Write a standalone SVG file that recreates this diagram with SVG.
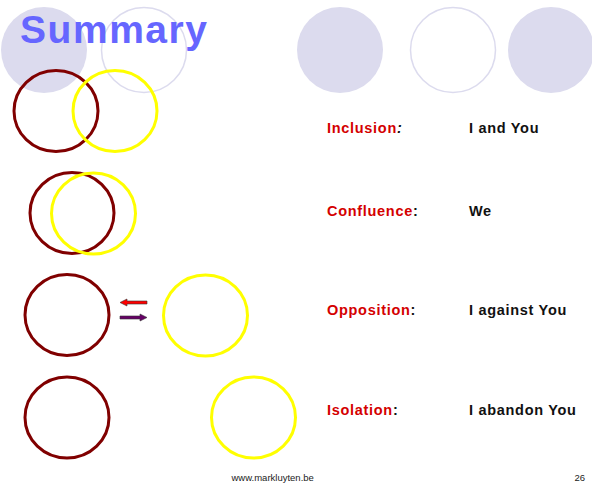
<svg xmlns="http://www.w3.org/2000/svg" width="592" height="486" viewBox="0 0 592 486">
  <style>
    .deco-fill { fill: #DCDBEE; stroke: none; }
    .deco-ring { fill: none; stroke: #DCDBEE; stroke-width: 1.5; }
    .me { fill: none; stroke: #800000; stroke-width: 3; }
    .you { fill: none; stroke: #FFFF00; stroke-width: 3; }
    .title { font-family: "Liberation Sans", Arial, sans-serif; font-weight: bold; font-size: 39px; fill: #6666FF; }
    .lbl { font-family: "Liberation Sans", Arial, sans-serif; font-weight: bold; font-size: 14.5px; letter-spacing: 0.7px; }
    .red { fill: #D40000; }
    .blk { fill: #111111; }
    .foot { font-family: "Liberation Sans", Arial, sans-serif; font-size: 9.5px; fill: #222222; }
    .arrow { stroke: #333333; stroke-width: 0.6; stroke-linejoin: miter; }
  </style>
  <rect width="592" height="486" fill="#FFFFFF"/>

  <g id="decoration">
    <circle class="deco-fill" cx="44" cy="50" r="43"/>
    <circle class="deco-ring" cx="144" cy="50" r="42.5"/>
    <circle class="deco-fill" cx="340" cy="50" r="43"/>
    <circle class="deco-ring" cx="453" cy="50" r="42.5"/>
    <circle class="deco-fill" cx="551" cy="50" r="43"/>
  </g>

  <g id="title">
    <text class="title" x="20" y="43" textLength="187" lengthAdjust="spacing">Summary</text>
  </g>

  <g id="inclusion">
    <ellipse class="me" cx="56" cy="111" rx="42" ry="40.5"/>
    <ellipse class="you" cx="115" cy="111" rx="42" ry="40.5"/>
  </g>

  <g id="confluence">
    <ellipse class="me" cx="72" cy="213" rx="42" ry="40.5"/>
    <ellipse class="you" cx="93.5" cy="213.5" rx="42" ry="40.5"/>
  </g>

  <g id="opposition-me">
    <ellipse class="me" cx="67" cy="315" rx="42" ry="40.5"/>
  </g>
  <g id="opposition-you">
    <ellipse class="you" cx="205.5" cy="315.5" rx="42" ry="40.5"/>
  </g>

  <g id="isolation-me">
    <ellipse class="me" cx="67" cy="417.5" rx="42" ry="40.5"/>
  </g>
  <g id="isolation-you">
    <ellipse class="you" cx="253.5" cy="417.5" rx="42" ry="40.5"/>
  </g>

  <g id="connectors">
    <path class="arrow" fill="#FF0000" d="M120,302.5 L127,299 L127,301 L147,301 L147,304 L127,304 L127,306 Z"/>
    <path class="arrow" fill="#660066" d="M147,317.5 L140,314 L140,316 L120,316 L120,319 L140,319 L140,321 Z"/>
  </g>

  <g id="labels">
    <text class="lbl" x="327" y="133"><tspan class="red">Inclusion</tspan><tspan class="blk" font-style="italic">:</tspan></text>
    <text class="lbl blk" x="469" y="133">I and You</text>
    <text class="lbl" x="327" y="216"><tspan class="red">Confluence</tspan><tspan class="blk">:</tspan></text>
    <text class="lbl blk" x="469" y="216">We</text>
    <text class="lbl" x="327" y="315"><tspan class="red">Opposition</tspan><tspan class="blk">:</tspan></text>
    <text class="lbl blk" x="469" y="315">I against You</text>
    <text class="lbl" x="327" y="415"><tspan class="red">Isolation</tspan><tspan class="blk">:</tspan></text>
    <text class="lbl blk" x="469" y="415">I abandon You</text>
  </g>

  <g id="footer">
    <text class="foot" x="231.5" y="481">www.markluyten.be</text>
    <text class="foot" x="585" y="481" text-anchor="end">26</text>
  </g>
</svg>
